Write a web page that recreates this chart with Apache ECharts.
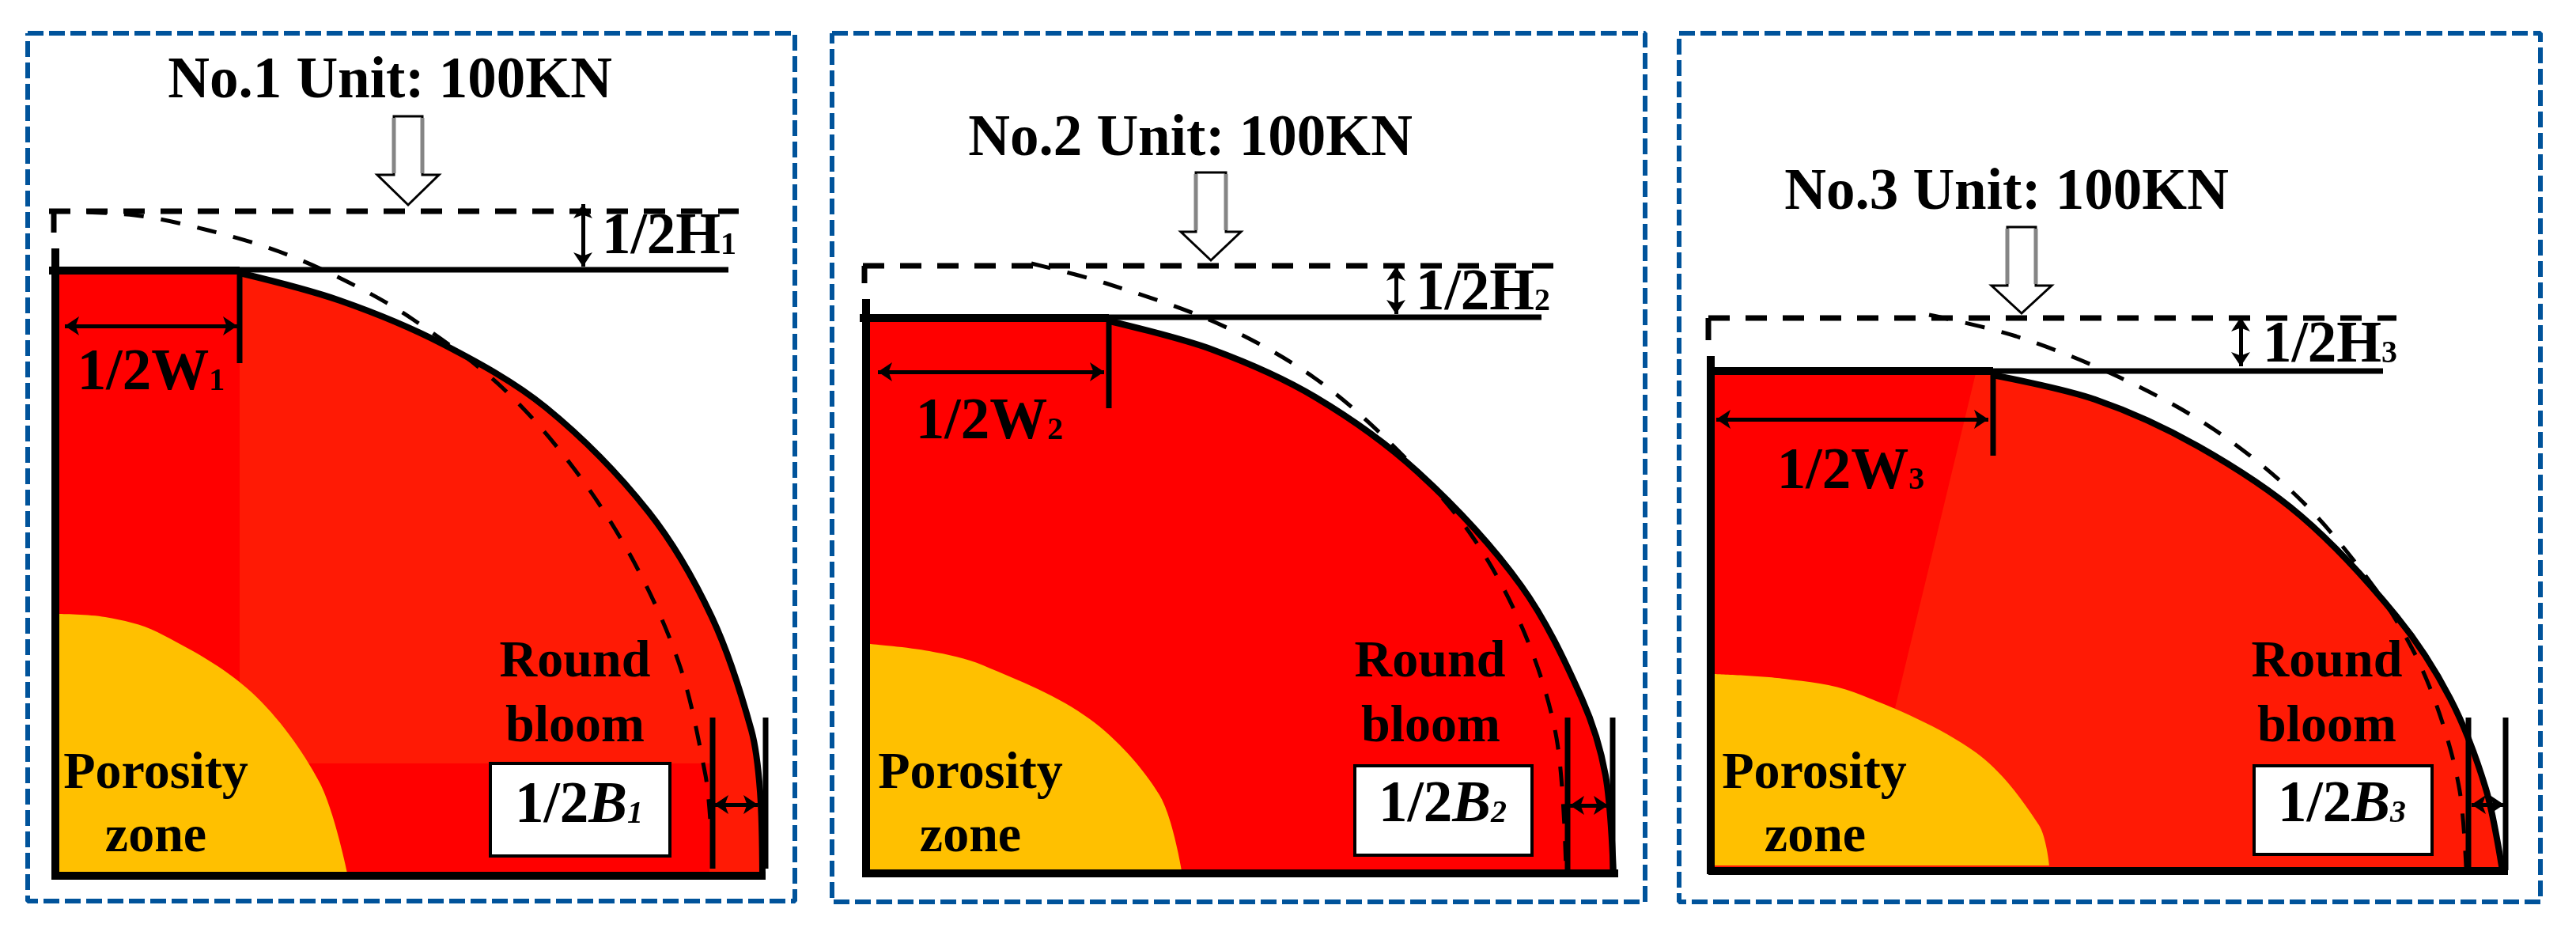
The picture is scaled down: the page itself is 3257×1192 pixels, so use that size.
<!DOCTYPE html>
<html>
<head>
<meta charset="utf-8">
<style>
  html, body { margin: 0; padding: 0; background: #fff; }
  #chart { width: 3257px; height: 1192px; }
</style>
<script src="https://cdn.jsdelivr.net/npm/echarts@6/dist/echarts.min.js"></script>
</head>
<body>
<div id="chart"></div>
<script>
// all values, x to the right, y downwards
const frames = [[35, 42, 1005, 1139], [1052, 42, 2080, 1140], [2123, 42, 3212, 1140]];

const bloomEdge1 = [[303, 345], [430, 380], [560, 435], [690, 515], [820, 647], [900, 780], [950, 923], [961, 1000], [964, 1107]];
const bloomEdge2 = [[1403, 406], [1533, 442], [1663, 502], [1793, 597], [1923, 740], [2000, 883], [2030, 980], [2040, 1105]];
const bloomEdge3 = [[2519, 474], [2649, 505], [2779, 564], [2909, 652], [3030, 779], [3098, 883], [3143, 997], [3164, 1101]];

const originalEdge1 = [[63, 267], [170, 272], [263, 291], [353, 318], [439, 356], [521, 403], [634, 489], [727, 594], [803, 713], [860, 843], [892, 980], [898, 1037]];
const originalEdge2 = [[1304, 333], [1398, 358], [1540, 409], [1661, 477], [1765, 567], [1860, 676], [1927, 799], [1968, 933], [1980, 1100]];
const originalEdge3 = [[2439, 398], [2549, 425], [2680, 477], [2801, 544], [2911, 634], [3000, 740], [3052, 824], [3087, 910], [3110, 1000], [3118, 1096]];

const porosity1 = [[74, 776], [133, 780], [199, 799], [318, 875], [404, 989], [439, 1103]];
const porosity2 = [[1100, 814], [1175, 823], [1243, 841], [1378, 909], [1466, 1005], [1494, 1100]];
const porosity3 = [[2167, 852], [2256, 858], [2344, 875], [2498, 951], [2578, 1043], [2591, 1094]];

const heavyRules = [
  [[70, 314], [70, 1112]], [[62, 342], [303, 342]], [[66, 1107], [968, 1107]],
  [[1095, 378], [1095, 1109]], [[1087, 402], [1402, 402]], [[1092, 1104], [2046, 1104]],
  [[2163, 450], [2163, 1105]], [[2160, 469], [2520, 469]], [[2160, 1101], [3171, 1101]],
];
const thinRules = [
  [[303, 341], [921, 341]], [[303, 341], [303, 459]], [[901, 907], [901, 1098]], [[968, 907], [968, 1098]], [[68, 267], [68, 294]],
  [[1402, 401], [1949, 401]], [[1402, 401], [1402, 516]], [[1982, 907], [1982, 1100]], [[2039, 907], [2039, 1105]], [[1093, 336], [1093, 358]],
  [[2520, 469], [3013, 469]], [[2520, 469], [2520, 576]], [[3121, 907], [3121, 1097]], [[3168, 907], [3168, 1100]], [[2160, 402], [2160, 430]],
];
const dashedRules = [[[62, 267], [934, 267]], [[1091, 336], [1965, 336]], [[2160, 402], [3030, 402]]];

const dimensionArrows = [
  [[737, 258], [737, 337]], [[82, 412], [300, 412]], [[903, 1017], [958, 1017]],
  [[1765, 337], [1765, 397]], [[1110, 470], [1396, 470]], [[1985, 1018], [2033, 1018]],
  [[2833, 401], [2833, 463]], [[2170, 530], [2514, 530]], [[3125, 1017], [3166, 1017]],
];

// load arrows: x centre, shaft half width, head half width, shaft top, shoulder, tip
const loadArrows = [[516, 18, 39, 147, 221, 259], [1531, 19, 38, 218, 293, 329], [2556, 18, 38, 287, 361, 396]];
const labelBoxes = [[620, 965, 847, 1082], [1713, 968, 1937, 1081], [2850, 968, 3075, 1080]];

// darker red parts of the section
const redBands = [[[72, 345], [303, 345]], [[72, 965], [897, 965]]];
const redBandBottoms = [1104, 1104];
const redWedge = [[2167, 472], [2498, 472], [2396, 895], [2167, 895]];

const titles = ['No.1 Unit: 100KN', 'No.2 Unit: 100KN', 'No.3 Unit: 100KN'];
const titleSpots = [[493, 124], [1505, 197], [2537, 265]];
const heightLabels = ['{m|1/2H}{s|1}', '{m|1/2H}{s|2}', '{m|1/2H}{s|3}'];
const heightSpots = [[846, 323], [1875, 394], [2946, 460]];
const widthLabels = ['{m|1/2W}{s|1}', '{m|1/2W}{s|2}', '{m|1/2W}{s|3}'];
const widthSpots = [[191, 495], [1251, 557], [2340, 620]];
const breadthLabels = ['{m|1/2}{i|B}{j|1}', '{m|1/2}{i|B}{j|2}', '{m|1/2}{i|B}{j|3}'];
const breadthSpots = [[732, 1045], [1824, 1044], [2961, 1044]];
const bloomWords = ['Round', 'bloom'];
const bloomSpots = [[[727, 856], [727, 938]], [[1808, 856], [1809, 938]], [[2942, 856], [2942, 938]]];
const zoneWords = ['Porosity', 'zone'];
const zoneSpots = [[[197, 997], [197, 1077]], [[1227, 997], [1227, 1077]], [[2294, 997], [2295, 1077]]];

const BLACK = '#000';
const RED = '#ff0000';
const ORANGE_RED = '#ff1a05';
const YELLOW = '#ffc000';
const BLUE = '#00539b';
const FONT = '"Liberation Serif", "Times New Roman", serif';
const CURVE = 0.33;

function lineSeries(data, width, color, extra) {
  return Object.assign({
    type: 'line',
    data: data,
    symbol: 'none',
    silent: true,
    animation: false,
    z: 4,
    lineStyle: { width: width, color: color, type: 'solid', cap: 'butt', join: 'round' },
  }, extra);
}

function filled(data, color, bottom, z, smooth, strokeWidth) {
  return lineSeries(data, strokeWidth, BLACK, {
    smooth: smooth,
    z: z,
    areaStyle: { color: color, opacity: 1, origin: bottom },
  });
}

function polygonSeries(rows, color, stroke, strokeWidth, z) {
  return {
    type: 'custom',
    coordinateSystem: 'cartesian2d',
    silent: true,
    animation: false,
    z: z,
    data: rows.map((points, i) => [i]),
    encode: { x: 0, y: 0 },
    clip: false,
    renderItem: (params, api) => ({
      type: 'polygon',
      shape: { points: rows[api.value(0)].map((p) => api.coord(p)) },
      style: { fill: color, stroke: stroke, lineWidth: strokeWidth },
    }),
  };
}

const textItems = [];
function addText(text, spot, size, rich, lift) {
  textItems.push({ text, x: spot[0], y: spot[1], size, rich, lift });
}
const labelRich = {
  m: { font: `bold 73px ${FONT}`, fill: BLACK, verticalAlign: 'bottom' },
  s: { font: `bold 40px ${FONT}`, fill: BLACK, verticalAlign: 'bottom', padding: [0, 0, 7, 0] },
  i: { font: `italic bold 73px ${FONT}`, fill: BLACK, verticalAlign: 'bottom' },
  j: { font: `italic bold 40px ${FONT}`, fill: BLACK, verticalAlign: 'bottom', padding: [0, 0, 7, 0] },
};
titles.forEach((t, i) => addText(t, titleSpots[i], 73, null, 0.27));
heightLabels.forEach((t, i) => addText(t, heightSpots[i], 73, labelRich, 0.3));
widthLabels.forEach((t, i) => addText(t, widthSpots[i], 73, labelRich, 0.3));
breadthLabels.forEach((t, i) => addText(t, breadthSpots[i], 73, labelRich, 0.34));
bloomSpots.forEach((pair) => bloomWords.forEach((w, k) => addText(w, pair[k], 66, null, 0.27)));
zoneSpots.forEach((pair) => zoneWords.forEach((w, k) => addText(w, pair[k], 66, null, 0.27)));

const framePaths = frames.map((f) => [[f[0], f[1]], [f[2], f[1]], [f[2], f[3]], [f[0], f[3]], [f[0], f[1]]]);
const arrowOutlines = loadArrows.map(([x, s, h, top, sh, tip]) => [
  [x - s, top], [x + s, top], [x + s, sh], [x + h, sh], [x, tip], [x - h, sh], [x - s, sh],
]);

const series = [];

// section fills
series.push(filled([[72, 345], [303, 345]], ORANGE_RED, 1104, 1, false, 0));
series.push(filled(bloomEdge1, ORANGE_RED, 1107, 1, CURVE, 8));
redBands.forEach((band, i) => series.push(filled(band, RED, redBandBottoms[i], 2, false, 0)));
series.push(filled([[1098, 405], [1403, 405]], RED, 1102, 1, false, 0));
series.push(filled(bloomEdge2, RED, 1105, 1, CURVE, 8));
series.push(filled([[2165, 472], [2520, 472]], ORANGE_RED, 1099, 1, false, 0));
series.push(filled(bloomEdge3, ORANGE_RED, 1101, 1, CURVE, 8));
series.push(polygonSeries([redWedge], RED, 'none', 0, 2));
series.push(filled(porosity1, YELLOW, 1103, 3, CURVE, 0));
series.push(filled(porosity2, YELLOW, 1100, 3, CURVE, 0));
series.push(filled(porosity3, YELLOW, 1094, 3, CURVE, 0));

// outline of the original section
[originalEdge1, originalEdge2, originalEdge3].forEach((edge) => {
  series.push(lineSeries(edge, 5, BLACK, { smooth: CURVE, lineStyle: { width: 5, color: BLACK, type: [25, 22] } }));
});
dashedRules.forEach((rule) => {
  series.push(lineSeries(rule, 7, BLACK, { lineStyle: { width: 7, color: BLACK, type: [27, 20] } }));
});
heavyRules.forEach((rule) => series.push(lineSeries(rule, 10, BLACK)));
thinRules.forEach((rule) => series.push(lineSeries(rule, 7, BLACK)));

// dimension arrows
series.push({
  type: 'lines',
  coordinateSystem: 'cartesian2d',
  silent: true,
  animation: false,
  z: 5,
  symbol: ['arrow', 'arrow'],
  symbolSize: 18,
  lineStyle: { color: BLACK, width: 5, opacity: 1, curveness: 0 },
  data: dimensionArrows.map((a) => ({ coords: a })),
});

// load arrows, shaft sides come out grey in the original
series.push(polygonSeries(arrowOutlines, '#fff', BLACK, 3, 5));
loadArrows.forEach(([x, s, h, top, sh]) => {
  [x - s, x + s].forEach((side) => {
    series.push(lineSeries([[side, top + 2], [side, sh - 2]], 5, '#858585', { z: 5 }));
  });
});
series.push(polygonSeries(labelBoxes.map((b) => [[b[0], b[1]], [b[2], b[1]], [b[2], b[3]], [b[0], b[3]]]), '#fff', BLACK, 4, 5));

// dashed panel frames
framePaths.forEach((path) => {
  series.push(lineSeries(path, 6, BLUE, { lineStyle: { width: 6, color: BLUE, type: [20, 7] } }));
});

series.push({
  type: 'custom',
  coordinateSystem: 'cartesian2d',
  silent: true,
  animation: false,
  z: 6,
  clip: false,
  data: textItems.map((t, i) => [i]),
  encode: { x: 0, y: 0 },
  renderItem: (params, api) => {
    const t = textItems[api.value(0)];
    const pos = api.coord([t.x, t.y]);
    return {
      type: 'text',
      x: pos[0],
      y: pos[1] - t.size * t.lift,
      style: {
        text: t.text,
        rich: t.rich,
        font: `bold ${t.size}px ${FONT}`,
        fill: BLACK,
        align: 'center',
        verticalAlign: 'middle',
      },
    };
  },
});

const chart = echarts.init(document.getElementById('chart'), null, { renderer: 'canvas' });
chart.setOption({
  animation: false,
  backgroundColor: '#fff',
  grid: { left: 0, right: 0, top: 0, bottom: 0 },
  xAxis: { type: 'value', min: 0, max: 3257, show: false },
  yAxis: { type: 'value', min: 0, max: 1192, inverse: true, show: false },
  series: series,
});
</script>
</body>
</html>
